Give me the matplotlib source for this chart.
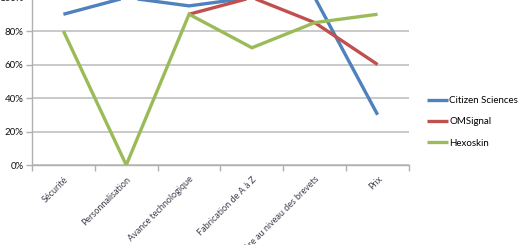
import matplotlib
matplotlib.use('Agg')
import matplotlib.pyplot as plt
import numpy as np

plt.rcParams['font.family'] = ['Lato', 'DejaVu Sans']

categories = ['Sécurité', 'Personnalisation', 'Avance technologique',
              'Fabrication de A à Z', 'Barrière au niveau des brevets', 'Prix']
citizen = [90, 100, 95, 100, 100, 30]
omsignal = [np.nan, np.nan, 90, 100, 85, 60]
hexoskin = [80, 0, 90, 70, 85, 90]
series_names = ['Citizen Sciences', 'OMSignal', 'Hexoskin']
colors = ['#4f81bd', '#c0504d', '#9bbb59']

fig = plt.figure(figsize=(5.2, 2.45), dpi=100)
ax = fig.add_axes([32/520, 80/245, 377/520, 167.5/245])

x = np.arange(len(categories))
for vals, name, c in zip([citizen, omsignal, hexoskin], series_names, colors):
    ax.plot(x, vals, color=c, lw=2.4, label=name, solid_capstyle='butt',
            solid_joinstyle='miter')

ax.set_xlim(-0.5, len(categories) - 0.5)
ax.set_ylim(0, 100)
ax.set_yticks(range(0, 101, 20))
ax.set_yticklabels([f'{v}%' for v in range(0, 101, 20)], fontsize=7, color='#111111')
ax.yaxis.grid(True, color='#c0c0c0', lw=1.2)
ax.set_axisbelow(True)

ax.set_xticks(x)
ax.set_xticklabels(categories, rotation=45, ha='right', rotation_mode='anchor',
                   fontsize=6.5, color='#404050')
ax.set_xticks(np.arange(-0.5, len(categories)), minor=True)
ax.tick_params(axis='x', which='major', length=0, pad=7)
ax.tick_params(axis='x', which='minor', length=4, color='#b0b0b0', width=1)
ax.tick_params(axis='y', length=4, color='#b0b0b0', width=1, pad=2)

for s in ['top', 'right']:
    ax.spines[s].set_visible(False)
for s in ['left', 'bottom']:
    ax.spines[s].set_color('#b0b0b0')
    ax.spines[s].set_linewidth(1)

fig.legend(loc='upper left', bbox_to_anchor=(427/520, 1 - 96/245), frameon=False,
           fontsize=7, handlelength=2.2, handletextpad=0.1, labelspacing=1.28,
           borderpad=0, borderaxespad=0)

fig.savefig('out.png', dpi=100)
